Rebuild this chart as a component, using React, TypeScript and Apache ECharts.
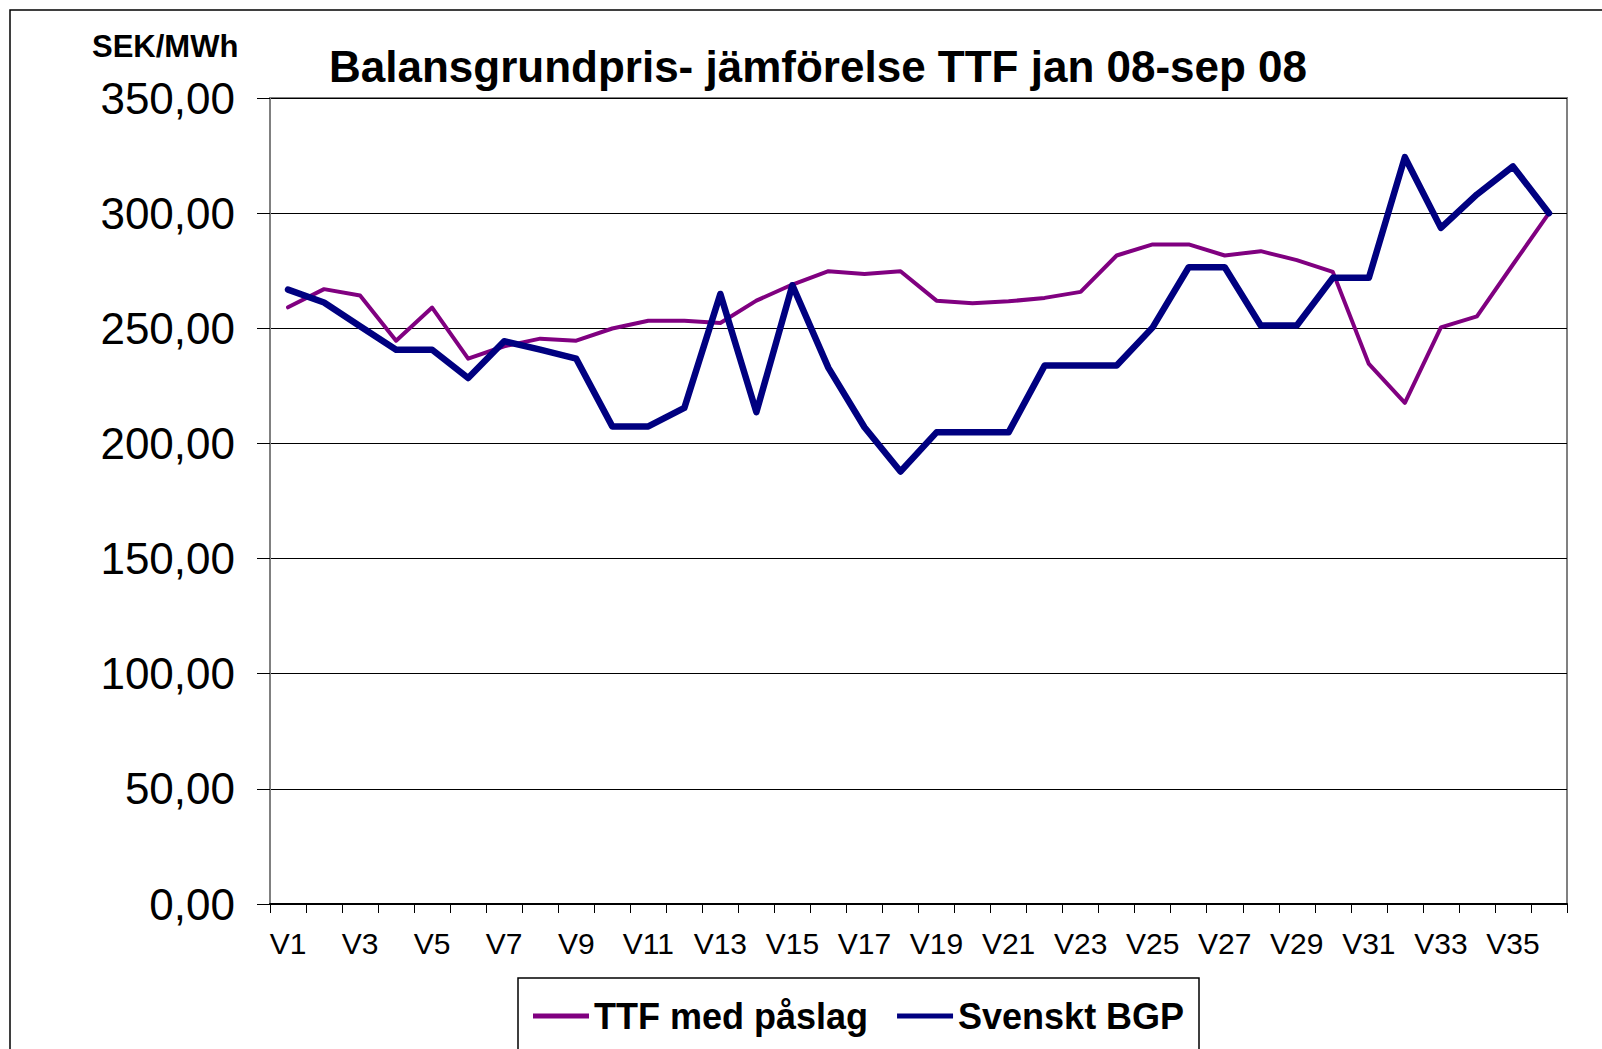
import React, { useEffect, useRef } from "react";
import * as echarts from "echarts";

const categories = [
  "V1", "V2", "V3", "V4", "V5", "V6", "V7", "V8", "V9", "V10", "V11", "V12",
  "V13", "V14", "V15", "V16", "V17", "V18", "V19", "V20", "V21", "V22", "V23", "V24",
  "V25", "V26", "V27", "V28", "V29", "V30", "V31", "V32", "V33", "V34", "V35", "V36",
];

const ttfMedPaslag = [
  259.1, 267.0, 264.2, 244.6, 259.0, 236.8, 242.2, 245.5, 244.6, 249.9, 253.3, 253.3,
  252.3, 262.0, 269.0, 274.8, 273.6, 274.8, 262.0, 260.9, 261.7, 263.2, 265.8, 281.6,
  286.4, 286.4, 281.6, 283.5, 279.6, 274.5, 234.5, 217.6, 250.4, 255.2, 277.7, 300.0,
];

const svensktBGP = [
  266.8, 261.2, 250.9, 240.7, 240.7, 228.4, 244.4, 240.7, 236.8, 207.4, 207.4, 215.4,
  264.9, 213.6, 268.7, 232.8, 207.0, 187.8, 204.8, 204.8, 204.8, 233.8, 233.8, 233.8,
  250.4, 276.5, 276.5, 251.2, 251.2, 271.9, 271.9, 324.3, 293.6, 308.1, 320.3, 300.0,
];

const seriesNames = ["TTF med påslag", "Svenskt BGP"];
const titleText = "Balansgrundpris- jämförelse TTF jan 08-sep 08";
const unitText = "SEK/MWh";

const FONT = "'Liberation Sans', Arial, sans-serif";

export default function App() {
  const ref = useRef<HTMLDivElement>(null);

  useEffect(() => {
    if (!ref.current) return;
    const chart = echarts.init(ref.current, null, { renderer: "svg" });
    chart.setOption({
      animation: false,
      backgroundColor: "#ffffff",
      textStyle: { fontFamily: FONT },
      title: {
        text: titleText,
        left: 329,
        top: 44,
        padding: 0,
        textStyle: {
          fontFamily: FONT,
          fontSize: 44,
          fontWeight: "bold",
          color: "#000",
        },
      },
      graphic: [
        {
          type: "rect",
          shape: { x: 10, y: 10, width: 1800, height: 1400 },
          style: { fill: "none", stroke: "#000", lineWidth: 1.5 },
          z: 0,
        },
        {
          type: "rect",
          shape: { x: 518, y: 978, width: 681, height: 200 },
          style: { fill: "none", stroke: "#000", lineWidth: 1.5 },
          z: 0,
        },
        {
          type: "text",
          x: 92,
          y: 46,
          style: {
            text: unitText,
            font: `bold 31px ${FONT}`,
            fill: "#000",
            textAlign: "left",
            textVerticalAlign: "middle",
          },
        },
      ],
      legend: {
        data: [
          { name: seriesNames[0], icon: "rect", itemStyle: { color: "#800080" } },
          { name: seriesNames[1], icon: "rect", itemStyle: { color: "#000080" } },
        ],
        left: 533,
        top: 998,
        padding: 0,
        itemWidth: 56,
        itemHeight: 5,
        itemGap: 29,
        textStyle: {
          fontFamily: FONT,
          fontSize: 36,
          fontWeight: "bold",
          color: "#000",
        },
      },
      grid: {
        left: 270,
        right: 35,
        top: 98,
        bottom: 145,
        show: true,
        borderColor: "#808080",
        borderWidth: 2,
        outerBoundsMode: "none",
        containLabel: false,
      },
      xAxis: {
        type: "category",
        data: categories,
        boundaryGap: true,
        axisLine: { show: true, lineStyle: { color: "#000", width: 2 } },
        axisTick: {
          show: true,
          interval: 0,
          length: 9,
          inside: false,
          lineStyle: { color: "#000", width: 1 },
        },
        axisLabel: {
          interval: 1,
          fontFamily: FONT,
          fontSize: 30,
          color: "#000",
          margin: 24,
        },
        splitLine: { show: false },
      },
      yAxis: {
        type: "value",
        min: 0,
        max: 350,
        interval: 50,
        axisLine: { show: true, lineStyle: { color: "#808080", width: 2 } },
        axisTick: {
          show: true,
          length: 13,
          inside: false,
          lineStyle: { color: "#000", width: 1 },
        },
        axisLabel: {
          fontFamily: FONT,
          fontSize: 44,
          color: "#000",
          margin: 35,
          formatter: (v: number) => v.toFixed(2).replace(".", ","),
        },
        splitLine: { show: true, lineStyle: { color: "#000", width: 1 } },
      },
      series: [
        {
          name: seriesNames[0],
          type: "line",
          data: ttfMedPaslag,
          symbol: "none",
          showSymbol: false,
          color: "#800080",
          lineStyle: { color: "#800080", width: 4, join: "round", cap: "round" },
          z: 2,
        },
        {
          name: seriesNames[1],
          type: "line",
          data: svensktBGP,
          symbol: "none",
          showSymbol: false,
          color: "#000080",
          lineStyle: { color: "#000080", width: 6.5, join: "round", cap: "round" },
          z: 3,
        },
      ],
    });
    return () => chart.dispose();
  }, []);

  return (
    <div
      ref={ref}
      style={{ position: "absolute", left: 0, top: 0, width: 1602, height: 1049 }}
    />
  );
}
